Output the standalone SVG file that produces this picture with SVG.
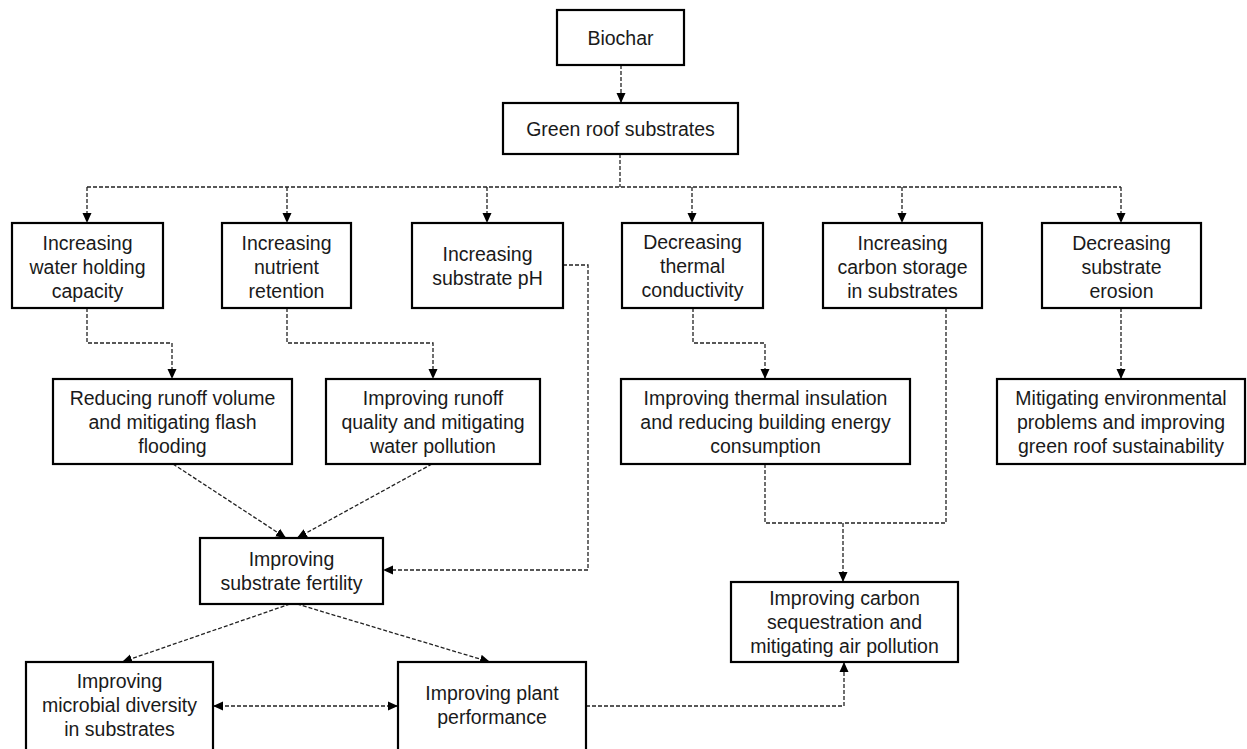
<svg xmlns="http://www.w3.org/2000/svg" width="1247" height="749" viewBox="0 0 1247 749">
<style>
.box{fill:#fff;stroke:#000;stroke-width:2.2}
.t{font-family:"Liberation Sans",Arial,sans-serif;font-size:19.5px;fill:#1a1a1a;text-anchor:middle}
.c{fill:none;stroke:#222;stroke-width:1.3;stroke-dasharray:4 2}
.a{marker-end:url(#ah)}
.b{marker-start:url(#ah);marker-end:url(#ah)}
</style>
<defs>
<marker id="ah" markerUnits="userSpaceOnUse" markerWidth="10" markerHeight="10" refX="10" refY="5" orient="auto-start-reverse" viewBox="0 0 10 10">
<path d="M0,0.5 L10,5 L0,9.5 z" fill="#000"/>
</marker>
</defs>
<rect width="1247" height="749" fill="#fff"/>
<g id="connectors">
<path class="c a" d="M621,65 V103"/>
<path class="c" d="M620,154 V187"/>
<path class="c" d="M87,187 H1121"/>
<path class="c a" d="M87,187 V223"/>
<path class="c a" d="M287,187 V223"/>
<path class="c a" d="M487,187 V223"/>
<path class="c a" d="M692,187 V223"/>
<path class="c a" d="M902,187 V223"/>
<path class="c a" d="M1121,187 V223"/>
<path class="c a" d="M87,308 V343 H172 V379"/>
<path class="c a" d="M287,308 V343 H433 V379"/>
<path class="c a" d="M563,265 H588 V570 H383"/>
<path class="c a" d="M693,308 V343 H765 V379"/>
<path class="c" d="M765,464 V523 H843"/>
<path class="c" d="M946,308 V523 H843"/>
<path class="c a" d="M843,523 V582"/>
<path class="c a" d="M1121,308 V379"/>
<path class="c a" d="M173,464 L286,538"/>
<path class="c a" d="M432,464 L297,538"/>
<path class="c a" d="M290,604 L122,662"/>
<path class="c a" d="M297,604 L490,662"/>
<path class="c b" d="M213,706 H398"/>
<path class="c a" d="M586,706 H844 V662"/>
</g>
<g id="biochar"><rect class="box" x="557" y="10" width="127" height="55"/><text class="t" x="620.5" y="44.5">Biochar</text></g>
<g id="green-roof"><rect class="box" x="503" y="103" width="235" height="51"/><text class="t" x="620.5" y="135.5">Green roof substrates</text></g>
<g id="water-holding"><rect class="box" x="12" y="223" width="151" height="85"/><text class="t" x="87.5" y="250">Increasing</text><text class="t" x="87.5" y="274">water holding</text><text class="t" x="87.5" y="298">capacity</text></g>
<g id="nutrient"><rect class="box" x="222" y="223" width="129" height="85"/><text class="t" x="286.5" y="250">Increasing</text><text class="t" x="286.5" y="274">nutrient</text><text class="t" x="286.5" y="298">retention</text></g>
<g id="ph"><rect class="box" x="412" y="223" width="151" height="85"/><text class="t" x="487.5" y="260.5">Increasing</text><text class="t" x="487.5" y="284.5">substrate pH</text></g>
<g id="thermal-cond"><rect class="box" x="622" y="223" width="141" height="85"/><text class="t" x="692.5" y="248.5">Decreasing</text><text class="t" x="692.5" y="272.5">thermal</text><text class="t" x="692.5" y="296.5">conductivity</text></g>
<g id="carbon-storage"><rect class="box" x="823" y="223" width="159" height="85"/><text class="t" x="902.5" y="250">Increasing</text><text class="t" x="902.5" y="274">carbon storage</text><text class="t" x="902.5" y="298">in substrates</text></g>
<g id="erosion"><rect class="box" x="1042" y="223" width="159" height="85"/><text class="t" x="1121.5" y="250">Decreasing</text><text class="t" x="1121.5" y="274">substrate</text><text class="t" x="1121.5" y="298">erosion</text></g>
<g id="runoff-volume"><rect class="box" x="53" y="379" width="239" height="85"/><text class="t" x="172.5" y="405">Reducing runoff volume</text><text class="t" x="172.5" y="429">and mitigating flash</text><text class="t" x="172.5" y="453">flooding</text></g>
<g id="runoff-quality"><rect class="box" x="326" y="379" width="214" height="85"/><text class="t" x="433" y="405">Improving runoff</text><text class="t" x="433" y="429">quality and mitigating</text><text class="t" x="433" y="453">water pollution</text></g>
<g id="thermal-insulation"><rect class="box" x="621" y="379" width="289" height="85"/><text class="t" x="765.5" y="405">Improving thermal insulation</text><text class="t" x="765.5" y="429">and reducing building energy</text><text class="t" x="765.5" y="453">consumption</text></g>
<g id="environmental"><rect class="box" x="997" y="379" width="248" height="85"/><text class="t" x="1121" y="405">Mitigating environmental</text><text class="t" x="1121" y="429">problems and improving</text><text class="t" x="1121" y="453">green roof sustainability</text></g>
<g id="fertility"><rect class="box" x="200" y="538" width="183" height="66"/><text class="t" x="291.5" y="566">Improving</text><text class="t" x="291.5" y="590">substrate fertility</text></g>
<g id="carbon-sequestration"><rect class="box" x="731" y="582" width="227" height="80"/><text class="t" x="844.5" y="605">Improving carbon</text><text class="t" x="844.5" y="629">sequestration and</text><text class="t" x="844.5" y="653">mitigating air pollution</text></g>
<g id="microbial"><rect class="box" x="26" y="662" width="187" height="92"/><text class="t" x="119.5" y="688">Improving</text><text class="t" x="119.5" y="712">microbial diversity</text><text class="t" x="119.5" y="736">in substrates</text></g>
<g id="plant"><rect class="box" x="398" y="662" width="188" height="92"/><text class="t" x="492" y="700">Improving plant</text><text class="t" x="492" y="724">performance</text></g>
</svg>
